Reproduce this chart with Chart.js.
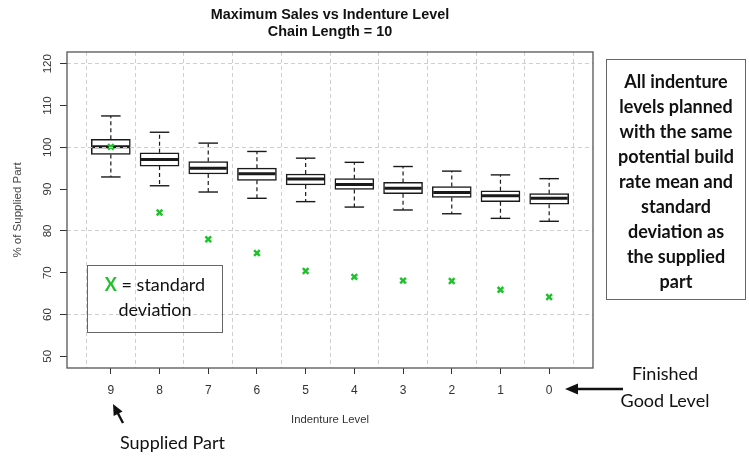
<!DOCTYPE html>
<html>
<head>
<meta charset="utf-8">
<script src="https://cdn.jsdelivr.net/npm/chart.js@4"></script>
<style>
  html, body { margin: 0; padding: 0; background: #fff; }
  canvas { display: block; }
</style>
</head>
<body>
<canvas id="chart" width="749" height="456"></canvas>
<script>
// Indenture levels, from the supplied part (9) down to the finished good (0)
const levels = ['9', '8', '7', '6', '5', '4', '3', '2', '1', '0'];

// Box-plot statistics of maximum sales, % of supplied part
const whiskerHigh   = [107.5, 103.6, 101.0, 99.0, 97.4, 96.4, 95.4, 94.3, 93.4, 92.5];
const upperQuartile = [101.9, 98.7, 96.6, 95.0, 93.6, 92.5, 91.6, 90.6, 89.6, 88.9];
const medians       = [100.1, 97.1, 95.0, 93.7, 92.4, 91.1, 90.2, 89.2, 88.4, 87.8];
const lowerQuartile = [98.3, 95.5, 93.6, 92.1, 91.0, 89.9, 88.9, 88.0, 87.0, 86.4];
const whiskerLow    = [92.9, 90.8, 89.3, 87.8, 87.0, 85.7, 85.0, 84.1, 83.0, 82.3];

// Standard deviation at each level (green crosses)
const stdDevMarks = [100.1, 84.4, 78.0, 74.7, 70.4, 69.0, 68.1, 68.0, 65.9, 64.2];

// Y axis tick values and the values that carry a dashed grid line
const yTickValues = [50, 60, 70, 80, 90, 100, 110, 120];
const yGridValues = [60, 80, 100, 120];

// Annotation texts
const titleLines = ['Maximum Sales vs Indenture Level', 'Chain Length = 10'];
const noteLines = ['All indenture', 'levels planned', 'with the same', 'potential build',
                   'rate mean and', 'standard', 'deviation as', 'the supplied', 'part'];
const keyMark = 'X';
const keyLines = [' = standard', 'deviation'];
const supplyLabel = 'Supplied Part';
const finishedLines = ['Finished', 'Good Level'];

const isHalf = v => Math.abs(v - Math.round(v)) > 0.25;
const NOTE_FONT = "Lato, 'Open Sans', sans-serif";
const GRID = '#cfcfcf';
const NONE = 'rgba(0,0,0,0)';

// Whiskers, caps and medians drawn right after the boxes
const boxExtras = {
  id: 'boxExtras',
  afterDatasetDraw(chart, args) {
    if (args.index !== 0) return;
    const { ctx, scales: { x, y } } = chart;
    const meta = chart.getDatasetMeta(0);
    ctx.save();
    ctx.strokeStyle = '#1a1a1a';
    levels.forEach((_, i) => {
      const px = x.getPixelForValue(i + 1);
      const bw = meta.data[i].width;
      const line = (x1, y1, x2, y2) => { ctx.beginPath(); ctx.moveTo(x1, y1); ctx.lineTo(x2, y2); ctx.stroke(); };
      ctx.lineWidth = 1.2;
      ctx.setLineDash([4, 3]);
      line(px, y.getPixelForValue(upperQuartile[i]), px, y.getPixelForValue(whiskerHigh[i]));
      line(px, y.getPixelForValue(lowerQuartile[i]), px, y.getPixelForValue(whiskerLow[i]));
      ctx.setLineDash([]);
      ctx.lineWidth = 1.4;
      const hi = y.getPixelForValue(whiskerHigh[i]);
      const lo = y.getPixelForValue(whiskerLow[i]);
      line(px - bw / 4, hi, px + bw / 4, hi);
      line(px - bw / 4, lo, px + bw / 4, lo);
      ctx.lineWidth = 3;
      const m = y.getPixelForValue(medians[i]);
      line(px - bw / 2 + 1, m, px + bw / 2 - 1, m);
    });
    ctx.restore();
  }
};

// Plot frame and side annotations
const annotations = {
  id: 'annotations',
  afterDraw(chart) {
    const { ctx, chartArea: a } = chart;
    ctx.save();
    ctx.strokeStyle = '#555';
    ctx.lineWidth = 1.3;
    ctx.strokeRect(a.left, a.top, a.right - a.left, a.bottom - a.top);

    // key box
    ctx.strokeStyle = '#666';
    ctx.lineWidth = 1;
    ctx.strokeRect(87.5, 265.5, 135, 67);
    ctx.textBaseline = 'alphabetic';
    ctx.font = 'bold 18px ' + NOTE_FONT;
    const wx = ctx.measureText(keyMark).width;
    ctx.font = '18px ' + NOTE_FONT;
    const wr = ctx.measureText(keyLines[0]).width;
    let sx = 155 - (wx + wr) / 2;
    ctx.font = 'bold 18px ' + NOTE_FONT;
    ctx.fillStyle = '#22c02e';
    ctx.textAlign = 'left';
    ctx.fillText(keyMark, sx, 291);
    ctx.font = '18px ' + NOTE_FONT;
    ctx.fillStyle = '#111';
    ctx.fillText(keyLines[0], sx + wx, 291);
    ctx.textAlign = 'center';
    ctx.fillText(keyLines[1], 155, 316);

    // note box on the right
    ctx.strokeRect(606.5, 59.5, 139, 240);
    ctx.font = 'bold 18px ' + NOTE_FONT;
    noteLines.forEach((t, i) => ctx.fillText(t, 676, 88 + 25 * i));

    // supplied part label and arrow
    ctx.font = '18px ' + NOTE_FONT;
    ctx.textAlign = 'left';
    ctx.fillText(supplyLabel, 120, 449);
    const arrow = (x1, y1, x2, y2, len, half) => {
      const ang = Math.atan2(y2 - y1, x2 - x1);
      ctx.strokeStyle = '#111';
      ctx.lineWidth = 2.4;
      ctx.beginPath();
      ctx.moveTo(x1, y1);
      ctx.lineTo(x2 - Math.cos(ang) * len * 0.8, y2 - Math.sin(ang) * len * 0.8);
      ctx.stroke();
      ctx.fillStyle = '#111';
      ctx.beginPath();
      ctx.moveTo(x2, y2);
      ctx.lineTo(x2 - Math.cos(ang) * len - Math.sin(ang) * half, y2 - Math.sin(ang) * len + Math.cos(ang) * half);
      ctx.lineTo(x2 - Math.cos(ang) * len + Math.sin(ang) * half, y2 - Math.sin(ang) * len - Math.cos(ang) * half);
      ctx.closePath();
      ctx.fill();
    };
    arrow(123, 423, 113, 404, 11, 5);

    // finished good label and arrow
    ctx.fillStyle = '#111';
    ctx.textAlign = 'center';
    ctx.fillText(finishedLines[0], 665, 380);
    ctx.fillText(finishedLines[1], 665, 407);
    arrow(623, 389, 565, 389, 13, 5.5);
    ctx.restore();
  }
};

Chart.defaults.font.family = "'Liberation Sans', Arial, sans-serif";

new Chart(document.getElementById('chart'), {
  type: 'bar',
  data: {
    datasets: [
      {
        type: 'bar',
        data: levels.map((_, i) => ({ x: i + 1, y: [lowerQuartile[i], upperQuartile[i]] })),
        backgroundColor: '#ffffff',
        borderColor: '#1a1a1a',
        borderWidth: 1.5,
        borderSkipped: false,
        barThickness: 39,
        order: 2
      },
      {
        type: 'scatter',
        data: levels.map((_, i) => ({ x: i + 1, y: stdDevMarks[i] })),
        pointStyle: 'crossRot',
        radius: 4,
        borderColor: '#22c02e',
        borderWidth: 2.5,
        order: 1
      }
    ]
  },
  options: {
    responsive: false,
    animation: false,
    layout: { padding: { left: 0, right: 156, top: 0, bottom: 0 } },
    plugins: {
      legend: { display: false },
      tooltip: { enabled: false },
      title: {
        display: true,
        fullSize: false,
        text: titleLines,
        color: '#111',
        font: { size: 14.4, weight: 'bold', lineHeight: 1.18 },
        padding: { top: 6.5, bottom: 11.5 }
      }
    },
    scales: {
      x: {
        type: 'linear',
        offset: false,
        min: 0.1,
        max: levels.length + 0.9,
        afterBuildTicks: s => {
          const t = [];
          for (let v = 0.5; v <= levels.length + 0.5; v += 0.5) t.push({ value: v });
          s.ticks = t;
        },
        afterFit: s => { s.height = 88; },
        ticks: {
          autoSkip: false, minRotation: 0, maxRotation: 0, padding: 9,
          color: '#333', font: { size: 12 },
          callback: v => (isHalf(v) ? '' : levels[Math.round(v) - 1])
        },
        grid: {
          offset: false,
          color: c => (c.tick && isHalf(c.tick.value) ? GRID : NONE),
          tickColor: c => (c.tick && isHalf(c.tick.value) ? NONE : '#333'),
          tickLength: 6,
          lineWidth: 1
        },
        border: { display: false, dash: [4, 3] },
        title: {
          display: true, text: 'Indenture Level', color: '#333',
          font: { size: 11.3 }, padding: { top: 0, bottom: 29 }
        }
      },
      y: {
        min: 47.2,
        max: 122.8,
        afterBuildTicks: s => { s.ticks = yTickValues.map(v => ({ value: v })); },
        afterFit: s => { s.width = 67; },
        ticks: {
          minRotation: 90, maxRotation: 90, crossAlign: 'center', padding: 2.5,
          color: '#333', font: { size: 11.5 }
        },
        grid: {
          z: 1,
          color: c => (c.tick && yGridValues.includes(c.tick.value) ? GRID : NONE),
          tickColor: '#333',
          tickLength: 7,
          lineWidth: 1
        },
        border: { display: false, dash: [4, 3] },
        title: {
          display: true, text: '% of Supplied Part', color: '#444',
          font: { size: 11.5 }, padding: { top: 10.5, bottom: 0 }
        }
      }
    }
  },
  plugins: [boxExtras, annotations]
});
</script>
</body>
</html>
